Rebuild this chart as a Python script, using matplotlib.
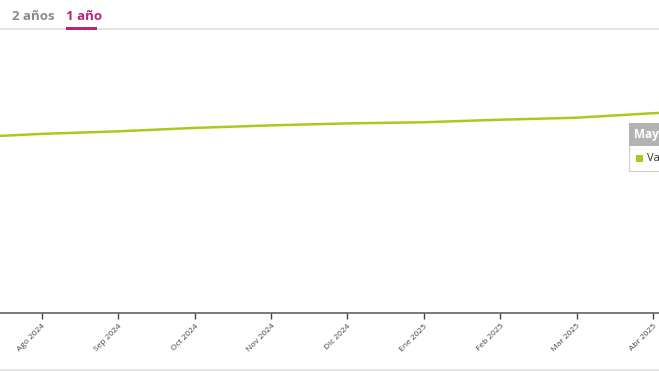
import numpy as np
import matplotlib.pyplot as plt
from matplotlib.patches import Rectangle

# months shown on the axis (equally spaced categories)
months = ['Jul 2024', 'Ago 2024', 'Sep 2024', 'Oct 2024', 'Nov 2024', 'Dic 2024',
          'Ene 2025', 'Feb 2025', 'Mar 2025', 'Abr 2025', 'May 2025']
tick_labels = months[1:10]
# values (arbitrary units, axis 0-100)
values = [62.0, 63.3, 64.2, 65.4, 66.3, 67.0, 67.4, 68.3, 69.0, 70.6, 71.5]

LINE_GREEN = '#a7cb1c'
MAGENTA = '#b8237c'

fig = plt.figure(figsize=(6.59, 3.71), dpi=100)
ax = fig.add_axes([0, 58 / 371, 1, (313 - 30) / 371])

x = np.arange(len(months)) - 1  # Ago 2024 sits at 0
ax.plot(x, values, color=LINE_GREEN, lw=1.8, solid_capstyle='round')

ax.set_xlim(-0.55, 8.08)
ax.set_ylim(0, 100)
ax.set_xticks(np.arange(len(tick_labels)))
ax.set_xticklabels(tick_labels, rotation=45, ha='right', va='top',
                   rotation_mode='anchor', fontsize=6, color='#444444',
                   family='Open Sans')
ax.tick_params(axis='x', length=4, width=1, color='#444444', pad=3)
ax.set_yticks([])
for side in ['top', 'left', 'right']:
    ax.spines[side].set_visible(False)
ax.spines['bottom'].set_color('#555555')
ax.spines['bottom'].set_linewidth(1.1)

# tabs at the top
fig.text(12 / 659, 1 - 16 / 371, '2 años', fontsize=9.5, fontweight='bold',
         color='#8a8a8a', family='Open Sans', va='center', ha='left')
fig.text(66 / 659, 1 - 16 / 371, '1 año', fontsize=9.5, fontweight='bold',
         color=MAGENTA, family='Open Sans', va='center', ha='left')
fig.patches.append(Rectangle((0, 1 - 30 / 371), 1, 2 / 371, transform=fig.transFigure,
                             color='#e4e4e4', lw=0))
fig.patches.append(Rectangle((66 / 659, 1 - 30 / 371), 31 / 659, 3 / 371,
                             transform=fig.transFigure, color=MAGENTA, lw=0))

# bottom band
fig.patches.append(Rectangle((0, 0), 1, 2 / 371, transform=fig.transFigure,
                             color='#e6e6e6', lw=0))

# tooltip, cut by the right edge
tx, ty_top = 629 / 659, 1 - 123 / 371
fig.patches.append(Rectangle((tx, 1 - 171 / 371), 80 / 659, 48 / 371,
                             transform=fig.transFigure, facecolor='white',
                             edgecolor='#cccccc', lw=0.8))
fig.patches.append(Rectangle((tx, 1 - 146 / 371), 80 / 659, 23 / 371,
                             transform=fig.transFigure, facecolor='#b3b3b3', lw=0))
fig.text(634 / 659, 1 - 134.5 / 371, 'Mayo 2025', fontsize=8.5, fontweight='bold',
         color='white', family='Open Sans', va='center', ha='left')
fig.patches.append(Rectangle((636 / 659, 1 - 162 / 371), 7 / 659, 7 / 371,
                             transform=fig.transFigure, color=LINE_GREEN, lw=0))
fig.text(647 / 659, 1 - 158.5 / 371, 'Valor', fontsize=8, color='#333333',
         family='Open Sans', va='center', ha='left')

fig.savefig('out.png', dpi=100)
